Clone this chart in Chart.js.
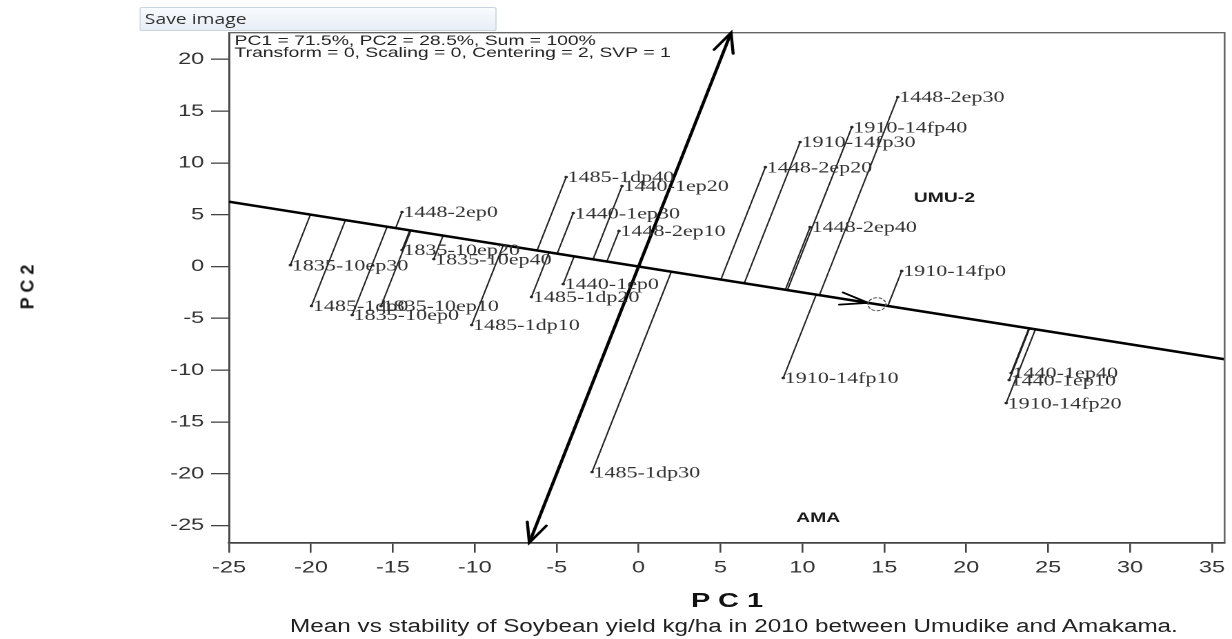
<!DOCTYPE html>
<html>
<head>
<meta charset="utf-8">
<title>Mean vs stability biplot</title>
<script src="https://cdn.jsdelivr.net/npm/chart.js@4.4.1/dist/chart.umd.min.js"></script>
<style>
  html, body { margin: 0; padding: 0; background: #fff; }
  body { position: relative; width: 1232px; height: 639px; overflow: hidden; font-family: 'Liberation Sans', Arial, sans-serif; }
  /* the source screenshot is stretched sideways: draw narrow, then widen */
  #stretch { position: absolute; left: 0; top: 0; width: 893px; height: 639px; transform: scaleX(1.3796); transform-origin: 0 0; }
  #chart { display: block; }
  #saveBtn { position: absolute; left: 101px; top: 7px; width: 259px; height: 24px; box-sizing: border-box;
    border: 1px solid #cbd5e1; border-radius: 2px; background: linear-gradient(#f9fbfd, #e7eef6);
    font: 14px 'Open Sans', 'Noto Sans', sans-serif; line-height: 21px; padding-left: 3px; color: #333; }
  .lbl { position: absolute; white-space: pre; }
  #pc1 { left: 527px; top: 588px; transform: translateX(-50%); font-size: 21px; font-weight: bold; color: #111; }
  #caption { left: 532px; top: 616px; transform: translateX(-50%); font-size: 17.6px; color: #222; }
  #pc2 { left: 28px; top: 287px; transform: translate(-50%, -50%) rotate(-90deg); font-size: 18px; font-weight: bold; color: #111; }
</style>
</head>
<body>
<div id="stretch">
  <canvas id="chart"></canvas>
  <div id="saveBtn">Save image</div>
  <div class="lbl" id="pc1">P C 1</div>
  <div class="lbl" id="caption">Mean vs stability of Soybean yield kg/ha in 2010 between Umudike and Amakama.</div>
</div>
<div class="lbl" id="pc2">P C 2</div>

<script>
// ── Data ──────────────────────────────────────────────────────────────────────
const genotypes = [
  '1448-2ep0', '1448-2ep10', '1448-2ep20', '1448-2ep30', '1448-2ep40',
  '1910-14fp0', '1910-14fp10', '1910-14fp20', '1910-14fp30', '1910-14fp40',
  '1440-1ep0', '1440-1ep10', '1440-1ep20', '1440-1ep30', '1440-1ep40',
  '1485-1dp0', '1485-1dp10', '1485-1dp20', '1485-1dp30', '1485-1dp40',
  '1835-10ep0', '1835-10ep10', '1835-10ep20', '1835-10ep30', '1835-10ep40'
];
const pc1 = [
  -14.44, -1.20, 7.74, 15.82, 10.47,
  16.06, 8.83, 22.44, 9.86, 13.02,
  -4.60, 22.62, -1.01, -3.99, 22.74,
  -19.97, -10.19, -6.54, -2.84, -4.42,
  -17.48, -15.72, -14.44, -21.25, -12.50
];
const pc2 = [
  5.26, 3.43, 9.60, 16.36, 3.81,
  -0.43, -10.76, -13.18, 12.02, 13.46,
  -1.69, -10.96, 7.77, 5.16, -10.28,
  -3.81, -5.65, -2.94, -19.84, 8.64,
  -4.68, -3.81, 1.59, 0.14, 0.72
];
const environments = ['UMU-2', 'AMA'];
const envPc1 = [18.67, 10.96];
const envPc2 = [6.61, -24.28];
const avgEnv = [14.55, -3.64];   // average environment (small circle on the axis)

const xTicks = [-25, -20, -15, -10, -5, 0, 5, 10, 15, 20, 25, 30, 35];
const yTicks = [-25, -20, -15, -10, -5, 0, 5, 10, 15, 20];
const xRange = [-25, 35.77];
const yRange = [-26.66, 22.57];

const infoLines = [
  'PC1 = 71.5%, PC2 = 28.5%, Sum = 100%',
  'Transform = 0, Scaling = 0, Centering = 2, SVP = 1'
];

// ── Geometry helpers ──────────────────────────────────────────────────────────
const aeaSlope = avgEnv[1] / avgEnv[0];
const ordSlope = -avgEnv[0] / avgEnv[1];

function project(px, py) {
  const [ax, ay] = avgEnv;
  const t = (px * ax + py * ay) / (ax * ax + ay * ay);
  return [t * ax, t * ay];
}

const aeaLine = xRange.map(v => ({ x: v, y: v * aeaSlope }));
const ordLine = yRange.map(v => ({ x: v / ordSlope, y: v }));
const projLines = [];
pc1.forEach((v, i) => {
  const f = project(v, pc2[i]);
  projLines.push({ x: v, y: pc2[i] }, { x: f[0], y: f[1] }, { x: f[0], y: null });
});
const points = pc1.map((v, i) => ({ x: v, y: pc2[i] }));

function arrowHead(ctx, tip, from, len, spread) {
  const ang = Math.atan2(tip.y - from.y, tip.x - from.x);
  ctx.beginPath();
  ctx.moveTo(tip.x - len * Math.cos(ang - spread), tip.y - len * Math.sin(ang - spread));
  ctx.lineTo(tip.x, tip.y);
  ctx.lineTo(tip.x - len * Math.cos(ang + spread), tip.y - len * Math.sin(ang + spread));
  ctx.stroke();
}

// ── Extras: box, labels, arrows ───────────────────────────────────────────────
const biplotExtras = {
  id: 'biplotExtras',
  afterDatasetsDraw(chart) {
    const { ctx, chartArea: a, scales: { x, y } } = chart;
    const px = p => ({ x: x.getPixelForValue(p.x), y: y.getPixelForValue(p.y) });
    ctx.save();

    // top / right frame
    ctx.strokeStyle = '#666';
    ctx.lineWidth = 1.3;
    ctx.beginPath();
    ctx.moveTo(a.left, a.top); ctx.lineTo(a.right, a.top); ctx.lineTo(a.right, a.bottom);
    ctx.stroke();

    // genotype labels
    ctx.fillStyle = '#333';
    ctx.font = '16px "Liberation Serif", "DejaVu Serif", serif';
    ctx.textAlign = 'left';
    ctx.textBaseline = 'middle';
    genotypes.forEach((g, i) => {
      const p = px(points[i]);
      ctx.fillText(g, p.x + 1, p.y + 1);
    });

    // environment labels
    ctx.fillStyle = '#1a1a1a';
    ctx.font = 'bold 14px "Liberation Sans", Arial, sans-serif';
    ctx.textAlign = 'center';
    environments.forEach((e, i) => {
      const p = px({ x: envPc1[i], y: envPc2[i] });
      ctx.fillText(e, p.x, p.y);
    });

    // info text
    ctx.fillStyle = '#222';
    ctx.font = '14px "Liberation Sans", Arial, sans-serif';
    ctx.textAlign = 'left';
    infoLines.forEach((t, i) => ctx.fillText(t, a.left + 4, a.top + 8.5 + i * 12));

    // ordinate arrows (both ends)
    const o = px({ x: 0, y: 0 });
    const e0 = px(ordLine[0]);
    const e1 = px(ordLine[1]);
    ctx.strokeStyle = '#000';
    ctx.lineWidth = 2.2;
    ctx.lineCap = 'round';
    arrowHead(ctx, e1, o, 21, 0.35);
    arrowHead(ctx, e0, o, 21, 0.35);

    // average environment: arrow + dashed circle
    const c = px({ x: avgEnv[0], y: avgEnv[1] });
    const d = Math.hypot(c.x - o.x, c.y - o.y);
    const tip = { x: c.x - (c.x - o.x) / d * 6.5, y: c.y - (c.y - o.y) / d * 6.5 };
    ctx.lineWidth = 1.8;
    arrowHead(ctx, tip, o, 21, 0.3);
    ctx.lineWidth = 1;
    ctx.strokeStyle = '#555';
    ctx.setLineDash([2, 2]);
    ctx.beginPath();
    ctx.arc(c.x, c.y, 6.5, 0, Math.PI * 2);
    ctx.stroke();
    ctx.restore();
  }
};

// ── Chart ─────────────────────────────────────────────────────────────────────
const tickFont = { family: "'Liberation Sans', Arial, sans-serif", size: 17 };

new Chart(document.getElementById('chart'), {
  type: 'scatter',
  data: {
    datasets: [
      { label: 'AEA', data: aeaLine, showLine: true, borderColor: '#000', borderWidth: 2.6, pointRadius: 0 },
      { label: 'Ordinate', data: ordLine, showLine: true, borderColor: '#000', borderWidth: 2.4, pointRadius: 0 },
      { label: 'Projections', data: projLines, showLine: true, spanGaps: false, borderColor: '#222', borderWidth: 1.1, pointRadius: 0 },
      { label: 'Genotypes', data: points, pointRadius: 1.3, backgroundColor: '#333', borderWidth: 0 }
    ]
  },
  options: {
    responsive: true,
    maintainAspectRatio: false,
    animation: false,
    devicePixelRatio: 2,
    layout: { padding: { top: 32.7, right: 2.2, bottom: 0, left: 0 } },
    plugins: { legend: { display: false }, tooltip: { enabled: false } },
    scales: {
      x: {
        type: 'linear',
        min: xRange[0],
        max: xRange[1],
        afterBuildTicks: s => { s.ticks = xTicks.map(v => ({ value: v })); },
        afterFit: s => { s.height = 96.3; },
        grid: { drawOnChartArea: false, tickLength: 10, color: '#444', lineWidth: 1.3 },
        border: { color: '#444', width: 1.8 },
        ticks: { color: '#333', font: tickFont, padding: 5, maxRotation: 0, autoSkip: false }
      },
      y: {
        type: 'linear',
        min: yRange[0],
        max: yRange[1],
        afterBuildTicks: s => { s.ticks = yTicks.map(v => ({ value: v })); },
        afterFit: s => { s.width = 166; },
        grid: { drawOnChartArea: false, tickLength: 13, color: '#444', lineWidth: 1.3 },
        border: { color: '#444', width: 1.4 },
        ticks: { color: '#333', font: tickFont, padding: 5, autoSkip: false }
      }
    }
  },
  plugins: [biplotExtras]
});
</script>
</body>
</html>
